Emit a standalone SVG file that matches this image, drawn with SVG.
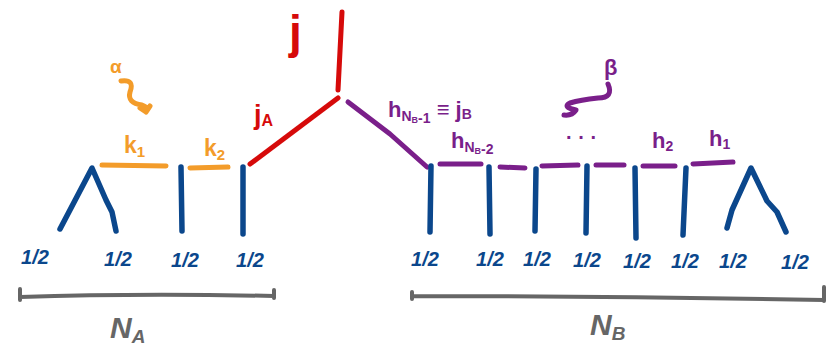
<svg xmlns="http://www.w3.org/2000/svg" width="838" height="350" viewBox="0 0 838 350">
<style>
.s{fill:none;stroke-linecap:round;stroke-linejoin:round}
.b{stroke:#0b478c;stroke-width:5.5}
.o{stroke:#f39c2a;stroke-width:5}
.r{stroke:#d60a0a;stroke-width:5}
.p{stroke:#7a1f8a;stroke-width:5}
.g{stroke:#666;stroke-width:4}
.t{font-family:"Liberation Sans",sans-serif;font-weight:bold}
.h{font-size:20px;fill:#0b478c;font-style:italic}
</style>
<rect width="838" height="350" fill="#fff"/>
<g id="tree-A">
<path class="s b" d="M60,229 L92,168 L106,200 L112,212 L116,231"/>
<path class="s b" d="M181,167 L182,231"/>
<path class="s b" d="M243,167 L243,234"/>
<path class="s o" d="M102,165 L166,166"/>
<path class="s o" d="M190,168 L228,167"/>
<path class="s o" d="M121,81 Q135,79 130,92 Q127,103 142,105 Q150,108 146,112 M140,108 L146,112 L150,106"/>
<text class="t" x="110" y="73" font-size="19" fill="#f39c2a">α</text>
<text class="t" x="124" y="153" font-size="23" fill="#f39c2a">k<tspan font-size="15" dy="4">1</tspan></text>
<text class="t" x="204" y="156" font-size="23" fill="#f39c2a">k<tspan font-size="15" dy="4">2</tspan></text>
</g>
<g id="root">
<path class="s r" d="M250,164 L338,98"/>
<path class="s r" d="M342,12 L338,90"/>
<text class="t" x="289" y="48" font-size="46" fill="#d60a0a">j</text>
<text class="t" x="254" y="124" font-size="27" fill="#d60a0a">j<tspan font-size="16" dy="2">A</tspan></text>
</g>
<g id="tree-B">
<path class="s p" d="M348,102 L390,134 L427,167"/>
<path class="s b" d="M431,166 L430,232"/>
<path class="s b" d="M489,167 L490,234"/>
<path class="s b" d="M536,169 L535,231"/>
<path class="s b" d="M587,166 L586,233"/>
<path class="s b" d="M635,168 L636,238"/>
<path class="s b" d="M686,168 L683,235"/>
<path class="s b" d="M727,228 L732,210 L751,168 L767,201 L777,212 L786,232"/>
<path class="s p" d="M440,164 L481,164"/>
<path class="s p" d="M500,167 L525,168"/>
<path class="s p" d="M542,166 L578,165"/>
<path class="s p" d="M596,165 L624,165"/>
<path class="s p" d="M643,166 L675,166"/>
<path class="s p" d="M693,164 L733,162"/>
<path class="s p" d="M608,84 Q614,98 598,98 Q580,100 570,103 Q562,107 576,110 Q572,116 564,115"/>
<text class="t" x="604" y="75" font-size="22" fill="#7a1f8a">β</text>
<text class="t" x="388" y="117" font-size="22" fill="#7a1f8a">h<tspan font-size="14" dy="4">N<tspan font-size="9" dy="2">B</tspan>-1</tspan><tspan dy="-6"> ≡ j<tspan font-size="14" dy="2">B</tspan></tspan></text>
<text class="t" x="451" y="148" font-size="22" fill="#7a1f8a">h<tspan font-size="14" dy="4">N<tspan font-size="9" dy="2">B</tspan>-2</tspan></text>
<text class="t" x="566" y="144" font-size="20" fill="#7a1f8a">·  ·  ·</text>
<text class="t" x="652" y="148" font-size="22" fill="#7a1f8a">h<tspan font-size="14" dy="3">2</tspan></text>
<text class="t" x="709" y="146" font-size="22" fill="#7a1f8a">h<tspan font-size="14" dy="3">1</tspan></text>
</g>
<g id="leaves">
<text class="t h" x="35" y="264" text-anchor="middle">1/2</text>
<text class="t h" x="118" y="266" text-anchor="middle">1/2</text>
<text class="t h" x="185" y="267" text-anchor="middle">1/2</text>
<text class="t h" x="250" y="267" text-anchor="middle">1/2</text>
<text class="t h" x="425" y="266" text-anchor="middle">1/2</text>
<text class="t h" x="490" y="266" text-anchor="middle">1/2</text>
<text class="t h" x="537" y="266" text-anchor="middle">1/2</text>
<text class="t h" x="587" y="267" text-anchor="middle">1/2</text>
<text class="t h" x="637" y="268" text-anchor="middle">1/2</text>
<text class="t h" x="685" y="268" text-anchor="middle">1/2</text>
<text class="t h" x="733" y="268" text-anchor="middle">1/2</text>
<text class="t h" x="795" y="269" text-anchor="middle">1/2</text>
</g>
<g id="brackets">
<path class="s g" d="M20,289 L20,300 M20,297 Q140,293 274,296 M274,290 L274,298"/>
<path class="s g" d="M412,292 L412,299 M412,296 Q620,296 824,300 M824,287 L824,301"/>
<text class="t" x="110" y="338" font-size="30" font-style="italic" fill="#666">N<tspan font-size="19" dy="5">A</tspan></text>
<text class="t" x="590" y="335" font-size="30" font-style="italic" fill="#666">N<tspan font-size="19" dy="5">B</tspan></text>
</g>
</svg>
